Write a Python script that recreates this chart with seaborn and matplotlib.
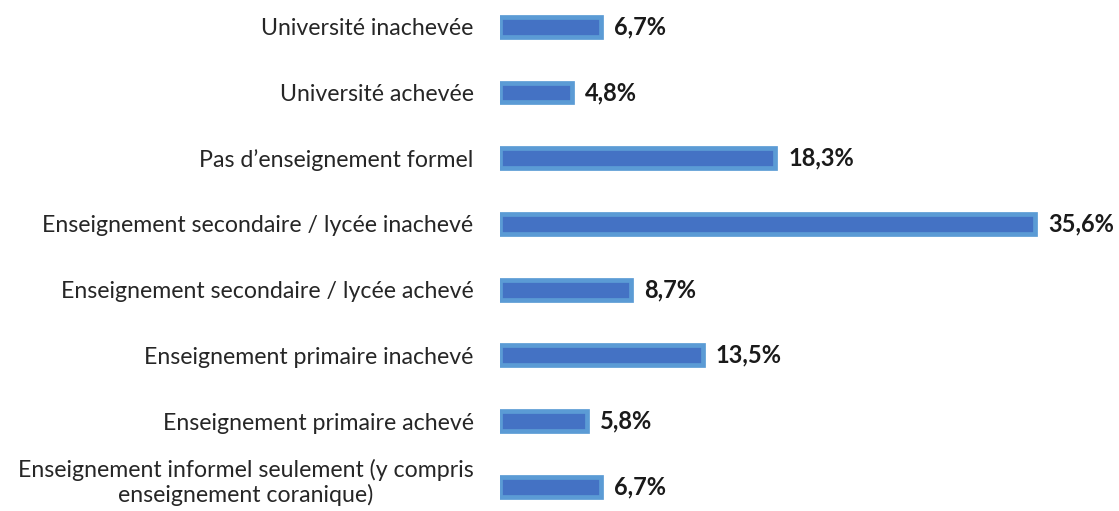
import matplotlib
matplotlib.use("Agg")
import matplotlib.pyplot as plt
import seaborn as sns
import pandas as pd

categories = [
    "Université inachevée",
    "Université achevée",
    "Pas d\u2019enseignement formel",
    "Enseignement secondaire / lycée inachevé",
    "Enseignement secondaire / lycée achevé",
    "Enseignement primaire inachevé",
    "Enseignement primaire achevé",
    "Enseignement informel seulement (y compris\nenseignement coranique)",
]
values = [6.7, 4.8, 18.3, 35.6, 8.7, 13.5, 5.8, 6.7]
value_labels = ["6,7%", "4,8%", "18,3%", "35,6%", "8,7%", "13,5%", "5,8%", "6,7%"]

sns.set_theme(style="white")
plt.rcParams['font.family'] = ['Lato', 'DejaVu Sans']

df = pd.DataFrame({"cat": categories, "val": values})

fig = plt.figure(figsize=(11.19, 5.11), dpi=100)
ax = fig.add_axes([500/1119, 0, 1 - 500/1119, 1])
sns.barplot(data=df, y="cat", x="val", orient="h", ax=ax, color="#4472C4",
            saturation=1, width=0.30, edgecolor="#5B9BD5", linewidth=3.4)

scale = 535/35.6  # px per %
ax.set_xlim(0, 619/scale)
ax.set_ylim(7.37, -0.41)

for i, (v, lab) in enumerate(zip(values, value_labels)):
    ax.text(v + 13/scale, i, lab, va="center", ha="left", fontsize=17,
            fontweight="bold", color="#1a1a1a")

ax.set_xlabel("")
ax.set_ylabel("")
ax.set_xticks([])
ax.tick_params(axis="y", length=0, pad=19)
n = len(categories)
ax.set_yticks(range(n))
ax.set_yticklabels(categories[:-1] + [""])
for t in ax.get_yticklabels():
    t.set_fontsize(16.7)
    t.set_color("#262626")
# last (two-line) label, nudged up so it fits like the reference
ax.annotate(categories[-1], xy=(0, n - 1), xycoords=ax.get_yaxis_transform(),
            xytext=(-19, 3), textcoords="offset points", ha="right", va="center",
            multialignment="center", fontsize=16.7, color="#262626",
            linespacing=1.15, annotation_clip=False)
for s in ax.spines.values():
    s.set_visible(False)

fig.savefig("out.png", dpi=100)
